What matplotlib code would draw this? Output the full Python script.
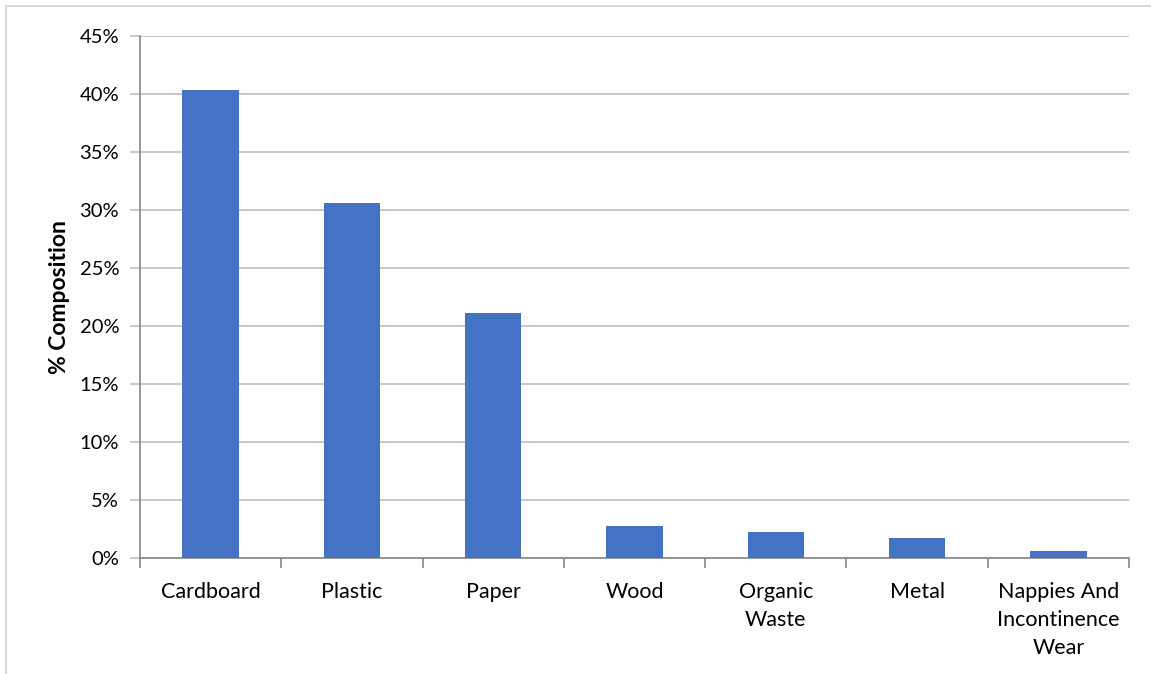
import matplotlib.pyplot as plt
from matplotlib.patches import Rectangle
from matplotlib.ticker import FuncFormatter, FixedLocator
import numpy as np

categories = ["Cardboard", "Plastic", "Paper", "Wood", "Organic\nWaste", "Metal",
              "Nappies And\nIncontinence\nWear"]
composition = [40.3, 30.6, 21.1, 2.8, 2.27, 1.75, 0.65]  # percent

plt.rcParams['font.family'] = ['Lato', 'DejaVu Sans']

fig = plt.figure(figsize=(11.51, 6.74), dpi=100)
ax = fig.add_axes([140 / 1151, 1 - 558.3 / 674, 989 / 1151, 522.6 / 674])

# light frame round the whole chart
fig.patches.append(Rectangle((6 / 1151, -0.01), 1.1, 1 - 6 / 674 + 0.01,
                             transform=fig.transFigure, fill=False,
                             edgecolor='#D9D9D9', linewidth=1.5))

x = np.arange(len(categories))
ax.bar(x, composition, width=0.40, color='#4472C4', zorder=3)

ax.set_xlim(-0.5, len(categories) - 0.5)
ax.set_ylim(0, 45)
ax.set_yticks(np.arange(0, 46, 5))
ax.yaxis.set_major_formatter(FuncFormatter(lambda v, p: f"{v:.0f}%"))
ax.grid(axis='y', color='#BFBFBF', linewidth=1.2, zorder=0)

ax.set_xticks(x)
ax.set_xticklabels(categories, fontsize=15.5, linespacing=1.5)
ax.tick_params(axis='x', length=0, pad=17)
ax.xaxis.set_minor_locator(FixedLocator(np.arange(-0.5, len(categories), 1)))
ax.tick_params(axis='x', which='minor', length=7, color='#868686', width=1.2)
ax.tick_params(axis='y', labelsize=14.5, length=7, color='#BFBFBF', width=1.2, pad=8)

for side in ('top', 'right'):
    ax.spines[side].set_visible(False)
for side in ('left', 'bottom'):
    ax.spines[side].set_color('#868686')
    ax.spines[side].set_linewidth(1.2)

ax.set_ylabel("% Composition", fontsize=16.5, fontweight='bold', labelpad=7)

fig.savefig("out.png", dpi=100)
